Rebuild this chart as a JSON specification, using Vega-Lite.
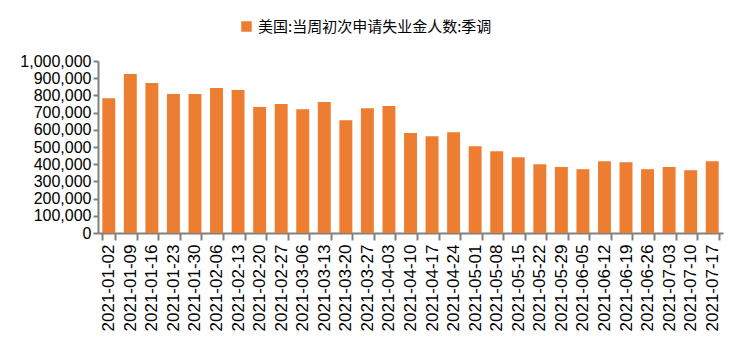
{
  "$schema": "https://vega.github.io/schema/vega-lite/v6.json",
  "width": 625,
  "height": 172,
  "autosize": {"type": "none"},
  "padding": {"left": 98, "top": 61, "right": 23, "bottom": 122},
  "background": "white",
  "config": {"view": {"stroke": null}},
  "data": {
    "values": [
      {"date": "2021-01-02", "value": 784000},
      {"date": "2021-01-09", "value": 924000},
      {"date": "2021-01-16", "value": 872000},
      {"date": "2021-01-23", "value": 808000},
      {"date": "2021-01-30", "value": 808000},
      {"date": "2021-02-06", "value": 843000},
      {"date": "2021-02-13", "value": 831000},
      {"date": "2021-02-20", "value": 732000},
      {"date": "2021-02-27", "value": 750000},
      {"date": "2021-03-06", "value": 720000},
      {"date": "2021-03-13", "value": 761000},
      {"date": "2021-03-20", "value": 656000},
      {"date": "2021-03-27", "value": 726000},
      {"date": "2021-04-03", "value": 738000},
      {"date": "2021-04-10", "value": 581000},
      {"date": "2021-04-17", "value": 563000},
      {"date": "2021-04-24", "value": 586000},
      {"date": "2021-05-01", "value": 505000},
      {"date": "2021-05-08", "value": 476000},
      {"date": "2021-05-15", "value": 441000},
      {"date": "2021-05-22", "value": 400000},
      {"date": "2021-05-29", "value": 383000},
      {"date": "2021-06-05", "value": 371000},
      {"date": "2021-06-12", "value": 417000},
      {"date": "2021-06-19", "value": 412000},
      {"date": "2021-06-26", "value": 371000},
      {"date": "2021-07-03", "value": 383000},
      {"date": "2021-07-10", "value": 365000},
      {"date": "2021-07-17", "value": 417000}
    ]
  },
  "mark": {"type": "bar", "color": "#ED7D31"},
  "encoding": {
    "x": {
      "field": "date",
      "type": "ordinal",
      "sort": null,
      "scale": {"paddingInner": 0.4, "paddingOuter": 0.2},
      "axis": {
        "title": null,
        "labelAngle": -90,
        "labelFont": "Liberation Sans",
        "labelFontSize": 17,
        "labelColor": "#000000",
        "labelPadding": 4,
        "domainColor": "#808080",
        "domainWidth": 2,
        "tickColor": "#808080",
        "tickWidth": 2,
        "tickSize": 7,
        "tickBand": "extent"
      }
    },
    "y": {
      "field": "value",
      "type": "quantitative",
      "scale": {"domain": [0, 1000000]},
      "axis": {
        "title": null,
        "values": [0, 100000, 200000, 300000, 400000, 500000, 600000, 700000, 800000, 900000, 1000000],
        "format": ",d",
        "labelFont": "Liberation Sans",
        "labelFontSize": 16,
        "labelColor": "#000000",
        "labelPadding": 2,
        "grid": false,
        "domainColor": "#808080",
        "domainWidth": 2,
        "tickColor": "#808080",
        "tickWidth": 2,
        "tickSize": 5
      }
    },
    "color": {
      "datum": "美国:当周初次申请失业金人数:季调",
      "scale": {"range": ["#ED7D31"]},
      "legend": {
        "title": null,
        "orient": "none",
        "legendX": 141,
        "legendY": -42,
        "symbolType": "square",
        "symbolSize": 110,
        "symbolStrokeWidth": 0,
        "labelFont": "Noto Sans CJK SC",
        "labelFontSize": 15,
        "labelLimit": 500,
        "labelColor": "#000000"
      }
    }
  }
}
